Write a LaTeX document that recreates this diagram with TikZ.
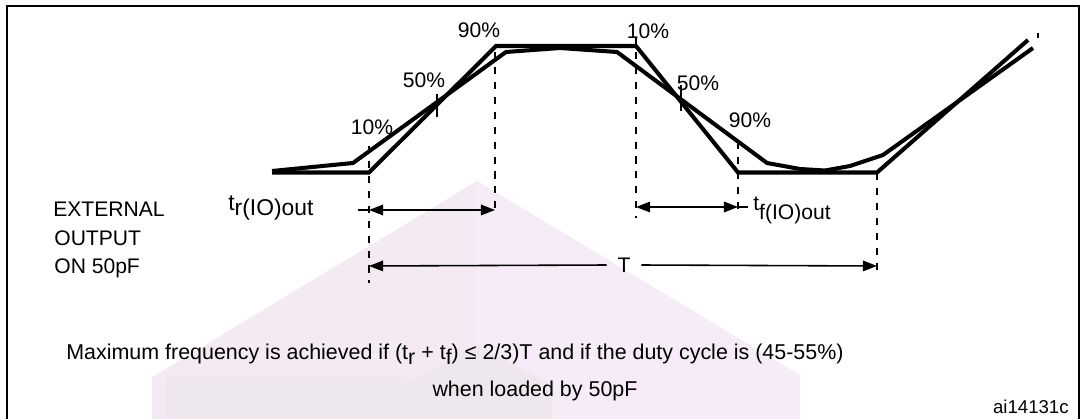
\documentclass[tikz,border=0pt]{standalone}
\usepackage{fontspec}
\setmainfont{Liberation Sans}
\usetikzlibrary{arrows.meta}
\definecolor{wmpink}{RGB}{246,236,247}
\definecolor{wmrose}{RGB}{243,234,244}
\definecolor{wmgray}{RGB}{238,231,238}
\begin{document}
\begin{tikzpicture}[x=0.02cm, y=-0.02cm,
    trace/.style={line width=2.3pt, line join=miter},
    guide/.style={line width=1pt, dash pattern=on 4pt off 4.5pt},
    tick/.style={line width=1pt},
    dim/.style={line width=0.9pt, {Triangle[length=8pt,width=6pt]}-{Triangle[length=8pt,width=6pt]}},
    dimhead/.style={line width=0.9pt, -{Triangle[length=8pt,width=6pt]}},
    txt/.style={font=\fontsize{12}{14}\selectfont, inner sep=0pt},
    note/.style={font=\fontsize{12.2}{15}\selectfont, inner sep=0pt}]
    \useasboundingbox (0,0) rectangle (1082,419);
    \fill[wmrose] (477,181) -- (152,377) -- (152,419) -- (477,419) -- cycle;
    \fill[wmpink] (477,181) -- (800,375) -- (800,419) -- (477,419) -- cycle;
    \fill[wmgray] (166,419) -- (166,377) -- (407,377) -- (407,419) -- cycle;
    \fill[wmgray] (407,419) -- (407,385) -- (477,345) -- (552,385) -- (552,419) -- cycle;
    \draw[line width=1.4pt] (7,419) -- (7,6) -- (1079,6) -- (1079,419);
    \draw[trace] (272,172.5) -- (369,172.5) -- (496,46) -- (636,46) -- (738,172.5)
        -- (877,172.5) -- (1028,40);
    \draw[trace] (272,171) -- (353,163) -- (506,52) -- (560,48) -- (617,52) -- (767,163)
        -- (800,169) -- (825,170.5) -- (850,166) -- (883,155) -- (1033,48);
    \foreach \nm/\x/\ya/\yb in {r10/369/146/283, r90/495/52/216, f10/636/37/218,
                                f90/738/142/211, prd/877/173/271} {
        \coordinate (\nm top) at (\x,\ya);
        \coordinate (\nm) at (\x,\yb);
        \draw[guide] (\nm top) -- (\nm);
    }
    \foreach \nm/\x/\ya/\yb in {r50/437/94/117, f50/681/85/111, nxt/1038/33/38} {
        \coordinate (\nm top) at (\x,\ya);
        \coordinate (\nm) at (\x,\yb);
        \draw[tick] (\nm top) -- (\nm);
    }
    \foreach \nm/\x/\y/\lab in {p10r/372/127/10, p50r/424/80/50, p90r/479/30/90,
                                p10f/648/31/10, p50f/698/83/50, p90f/750/120/90} {
        \node[txt] (\nm) at (\x,\y) {\lab\%};
    }
    \coordinate (trL) at (369,210);
    \coordinate (trR) at (495,210);
    \coordinate (trS) at (358,210);
    \draw[dim] (trL) -- (trR);
    \draw[line width=0.9pt] (trS) -- (trL);
    \coordinate (tfL) at (636,207);
    \coordinate (tfR) at (738,207);
    \coordinate (tfS) at (748,207);
    \draw[dim] (tfL) -- (tfR);
    \draw[line width=0.9pt] (tfR) -- (tfS);
    \coordinate (TL) at (369,266);
    \coordinate (TR) at (877,266);
    \node[txt, inner xsep=6pt] (Tlab) at (624,265) {T};
    \draw[dimhead] (Tlab.west) -- (TL);
    \draw[dimhead] (Tlab.east) -- (TR);
    \node[txt, anchor=base west] (trlab) at (228,210)
        {\fontsize{13}{15}\selectfont t\raisebox{-3pt}{r(IO)out}};
    \node[txt, anchor=base west] (tflab) at (753,210)
        {\fontsize{12}{15}\selectfont t\raisebox{-5.5pt}{f(IO)out}};
    \node[txt, anchor=base west] (ext) at (53,216) {EXTERNAL};
    \node[txt, anchor=base west] (out) at (54,245) {OUTPUT};
    \node[txt, anchor=base west] (load) at (54,273) {ON 50pF};
    \node[note, anchor=base west] (rule) at (66,359)
        {Maximum frequency is achieved if (t\raisebox{-3pt}{r} + t\raisebox{-3pt}{f}) ≤ 2/3)T and if the duty cycle is (45-55\%)};
    \node[note, anchor=base] (rule2) at (535,396) {when loaded by 50pF};
    \node[note, font=\fontsize{10.6}{12}\selectfont, anchor=base east] (ref) at (1069,413) {ai14131c};
\end{tikzpicture}
\end{document}
